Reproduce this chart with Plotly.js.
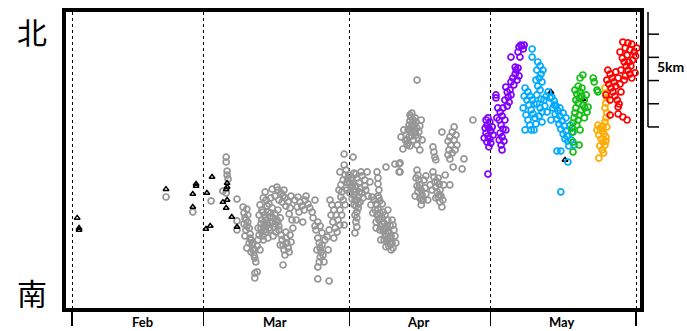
<!DOCTYPE html>
<html>
<head>
<meta charset="utf-8">
<script src="https://cdn.plot.ly/plotly-3.0.1.min.js"></script>
<style>html,body{margin:0;padding:0;background:#fff;}#chart{width:687px;height:331px;}</style>
</head>
<body>
<div id="chart"></div>
<script>
// x = day of year (Feb 1 = 32), y = km north
const monthTickDays = [32, 60, 91, 121, 152];
const monthLabels = ['Feb', 'Mar', 'Apr', 'May'];
const monthLabelDays = [46.9, 75.2, 105.6, 136.3];
const scaleBarKm = [0, 1, 2, 3, 4, 5];
const scaleBarTopKm = 12.89;

const grayPoints = [
[52.0,4.87],[57.7,4.22],[61.6,4.70],[64.8,6.59],[64.8,6.38],[65.0,5.99],[65.0,5.82],[65.2,5.65],[64.1,5.13],[64.8,5.04],[67.1,4.78],[68.4,4.44],[69.2,4.35],[67.1,3.84],[67.1,3.45],
[68.6,4.18],[68.8,3.97],[68.6,3.71],[69.0,3.45],[68.8,3.19],[69.4,3.79],[69.7,3.53],[69.9,3.28],[70.1,3.02],[70.3,2.80],[70.5,2.59],[70.7,2.37],[70.9,2.24],[71.1,2.07],[69.7,2.89],[70.1,2.50],[71.4,2.76],[71.6,3.02],[71.8,3.23],[71.6,3.53],[72.0,2.59],[69.2,2.67],[69.4,4.09],[70.9,1.59],[70.9,1.38],[71.4,1.64],
[69.2,3.62],[69.9,3.10],[70.5,2.89],[70.9,2.59],[69.0,3.88],
[72.0,4.53],[72.4,4.31],[72.9,4.09],[73.3,3.88],[73.7,3.66],[74.1,3.45],[72.4,3.88],[72.9,3.62],[73.3,3.36],[72.2,3.53],[72.6,3.19],[73.7,4.22],[74.1,4.01],[74.6,3.79],[75.0,3.58],[74.6,4.40],[75.2,4.14],[75.6,3.88],[73.3,4.74],[73.9,4.57],[74.3,4.83],[73.1,5.09],[74.6,5.21],[75.6,5.30],[72.7,4.83],[75.4,3.36],[76.0,3.62],[75.8,4.31],[76.3,3.97],[71.8,4.09],[72.7,3.02],[73.7,3.10],[74.8,3.19],
[72.6,4.22],[73.1,3.97],[73.5,3.75],[73.9,3.53],[72.2,3.71],[74.3,4.18],[74.8,3.97],[75.2,3.71],[73.5,4.48],[74.1,3.79],[73.1,3.45],[72.4,3.36],
[75.8,5.17],[76.5,5.04],[76.9,4.91],[77.3,4.83],[78.0,4.65],[76.7,4.65],[77.5,4.48],[78.4,4.40],[76.0,4.74],[77.1,5.17],[75.2,4.91],[78.6,4.91],[78.2,4.14],[78.8,3.88],
[76.0,3.45],[76.5,3.23],[76.7,3.02],[76.9,2.80],[77.1,2.59],[77.3,2.37],[77.5,3.10],[77.7,2.89],[78.0,2.67],[77.5,3.36],[76.3,2.80],[78.4,3.23],[78.2,2.50],[76.9,1.94],[79.0,3.53],[75.8,3.79],[78.6,2.93],
[79.4,4.74],[80.1,4.87],[80.5,4.65],[80.9,4.48],[81.6,4.74],[82.2,4.57],[82.6,4.40],[79.9,4.44],[81.4,4.31],[83.1,4.22],[80.3,4.22],[83.7,4.74],[81.8,4.91],[79.7,3.88],[81.1,3.79],[83.3,3.97],[84.3,3.79],[84.8,3.62],[83.9,3.45],
[84.3,3.10],[84.6,2.89],[84.8,2.67],[85.0,2.50],[84.8,2.28],[84.6,2.07],[85.2,2.80],[85.4,2.37],[84.1,2.59],[85.8,3.02],[86.3,3.15],[87.7,3.10],[85.6,2.07],[84.3,1.85],[85.2,3.32],[83.7,3.62],[86.5,2.59],[84.3,1.34],[86.7,1.25],
[86.9,4.74],[87.3,4.53],[87.7,4.31],[88.2,4.09],[88.6,3.88],[89.0,3.66],[87.1,4.09],[87.5,3.79],[88.0,3.53],[88.6,4.53],[89.0,4.31],[89.4,4.09],[89.7,4.74],[90.1,4.53],[86.7,3.45],[88.4,3.36],[89.9,3.66],[89.2,4.87],[88.8,5.17],
[89.2,5.39],[89.7,5.60],[90.1,5.82],[90.3,6.03],[89.9,6.25],[89.4,5.09],[90.3,5.26],[90.5,5.52],[89.9,6.72],[91.8,6.59],[89.0,5.95],
[90.9,5.82],[91.4,5.60],[91.6,5.34],[91.8,5.17],[92.0,4.96],[92.2,4.74],[92.4,4.48],[92.6,4.22],[91.1,5.04],[91.6,4.78],[92.6,5.69],[93.1,5.47],[93.3,5.26],[93.7,5.04],[92.9,4.87],[93.3,4.65],[92.9,4.40],[92.2,4.09],[92.4,3.79],[92.6,3.58],[92.2,3.32],[90.7,5.69],[90.5,5.17],[93.7,5.78],[94.3,5.60],[94.8,5.95],[94.3,5.34],[93.9,4.83],[95.4,5.52],[94.5,5.17],[95.0,4.91],[96.9,5.95],[97.1,5.69],[97.1,5.43],[97.3,5.17],[97.1,4.91],[97.5,4.70],[92.0,5.90],[93.5,5.95],
[91.1,5.47],[91.8,5.47],[92.4,5.34],[92.2,5.09],[92.6,4.74],[91.4,5.26],[92.4,5.86],[93.1,5.09],[92.9,4.57],[92.0,4.53],[91.6,5.69],[92.6,3.97],
[95.8,4.87],[96.3,4.74],[96.7,4.57],[97.1,4.35],[97.5,4.18],[98.0,3.97],[98.4,3.75],[98.8,3.53],[99.2,3.32],[99.7,3.10],[100.1,2.89],[100.3,2.67],[96.5,4.31],[96.9,4.09],[97.3,3.88],[97.7,3.62],[98.2,3.40],[98.6,3.19],[99.0,2.97],[99.4,2.76],[95.6,4.53],[96.0,4.18],[96.7,3.79],[97.5,3.45],[98.4,3.02],[98.8,2.72],[98.6,4.09],[99.2,3.88],[99.7,3.62],[100.5,3.45],[100.7,3.19],[99.9,2.59],[98.0,4.57],[97.3,4.83],[99.2,4.31],[100.1,3.88],[97.7,3.02],[96.7,3.53],[100.9,2.89],[100.3,3.66],[98.8,6.16],[100.7,6.29],[101.6,6.29],[101.6,5.95],
[97.1,4.14],[97.5,3.92],[98.0,3.71],[98.4,3.49],[98.8,3.28],[99.2,3.06],[99.7,2.84],[96.9,4.53],[98.2,4.22],[99.0,3.62],[99.4,3.40],[99.9,3.19],
[104.3,8.49],[104.1,8.32],[103.9,8.15],[104.6,8.19],[105.0,8.28],[103.7,7.97],[104.3,7.89],[104.8,8.02],[105.2,8.10],[103.5,7.76],[104.1,7.67],[104.8,7.76],[105.4,7.84],[103.1,7.54],[103.7,7.46],[104.3,7.50],[105.2,7.54],[105.8,7.67],[106.0,7.93],[105.6,7.41],[102.9,7.33],[103.5,7.20],[102.4,6.94],[105.4,7.11],[106.0,6.90],[106.5,7.33],[106.3,8.19],[102.6,7.76],[102.0,7.46],[103.3,7.11],[105.4,9.91],[101.8,6.34],[101.8,5.95],
[103.9,8.41],[104.6,7.93],[103.9,7.84],[105.0,7.67],[103.3,7.33],[104.6,7.33],[103.9,7.07],
[105.4,6.03],[105.6,5.82],[105.8,5.60],[106.0,5.39],[106.3,5.17],[106.5,4.96],[106.7,4.74],[105.2,5.69],[105.4,5.34],[105.6,5.09],[106.0,4.83],[106.9,5.60],[107.1,5.26],[107.3,5.00],[107.7,4.74],[105.0,4.91],[106.3,4.53],[107.3,5.78],[108.2,5.39],[105.8,5.26],[106.3,4.74],
[108.8,5.95],[109.0,5.73],[109.2,5.52],[109.4,5.30],[109.7,5.09],[109.9,4.87],[110.3,4.65],[110.7,4.44],[109.9,5.69],[110.1,5.43],[110.3,5.17],[110.5,4.91],[110.9,4.74],[108.6,5.17],[111.1,5.39],[109.4,4.83],[108.8,7.03],[109.0,6.81],[109.2,6.59],[109.4,6.47],[110.7,7.67],[112.4,5.39],[111.4,5.82],[109.7,5.52],[110.1,4.96],
[113.3,7.89],[112.9,7.67],[112.4,7.46],[112.0,7.28],[112.6,7.11],[112.2,6.90],[112.9,6.77],[113.3,7.33],[113.7,7.54],[113.9,7.11],[112.4,6.51],[113.1,6.16],[113.5,6.90],[112.0,6.68],[115.4,6.51],[115.0,6.08],[117.3,8.19]
];

const trianglePoints = [
[33.1,3.97],[33.5,3.53],[33.5,3.45],[52.0,5.21],[58.4,5.34],[58.4,5.43],[57.7,5.00],[57.7,4.44],[61.8,5.73],[60.7,5.04],[60.5,3.49],[61.4,3.62],[64.1,4.65],[65.0,4.74],[65.0,5.47],[65.0,5.30],[64.8,5.21],[64.8,4.40],[66.0,4.01],[67.1,3.58],[133.9,9.40],[136.9,6.47],[140.7,9.09]
];

const purplePoints = [
[120.1,8.19],[120.5,8.28],[120.9,8.10],[120.3,7.97],[120.7,7.84],[121.1,7.71],[120.1,7.63],[120.5,7.50],[120.9,7.37],[121.4,7.89],[119.9,7.84],[120.3,7.24],[121.1,7.20],[120.7,7.03],[120.5,5.86],[121.6,7.54],[119.7,7.41],
[122.6,8.71],[123.1,8.53],[123.5,8.36],[122.9,8.19],[123.3,7.97],[123.7,7.80],[123.1,7.63],[123.5,7.46],[123.9,7.28],[123.3,7.11],[123.5,6.90],[124.1,8.19],[122.4,8.28],[122.2,9.27],[122.2,9.14],[123.7,8.71],[124.3,7.76],[122.9,7.33],
[124.3,9.61],[124.6,9.40],[124.8,9.18],[125.0,8.96],[124.6,8.79],[125.2,9.48],[124.1,9.05],[125.4,9.27],
[125.4,9.83],[125.8,10.00],[126.3,10.17],[126.5,10.34],[126.0,9.70],[126.7,9.91],[127.1,10.09],[126.9,10.43],[126.3,10.47],
[125.4,10.90],[127.3,10.90],[126.9,11.12],[127.5,11.42],[128.0,11.25],[127.7,11.38],[127.1,11.34],[128.2,11.42]
];

const bluePoints = [
[129.9,11.25],[129.9,10.90],[131.1,10.69],[131.6,10.52],[130.9,10.34],[131.8,10.17],[131.4,10.00],[132.0,9.83],[131.1,9.65],[131.6,9.48],[130.9,9.27],[131.8,9.09],[132.2,10.34],[130.7,9.91],
[128.4,9.57],[129.0,9.40],[129.4,9.22],[129.9,9.05],[130.3,8.88],[128.8,9.05],[129.2,8.84],[129.7,8.62],[130.1,8.45],[130.5,8.28],[128.6,8.41],[129.0,8.19],[129.4,7.97],[128.4,7.76],[129.7,7.76],[130.3,7.76],[130.9,8.88],[131.6,8.71],[132.0,8.53],[132.4,9.05],[132.9,9.22],[133.3,9.40],[132.6,8.79],[133.1,8.53],[133.7,9.14],[131.4,8.36],[132.0,8.10],[130.7,8.02],[128.2,9.22],[128.0,8.71],
[135.2,6.85],[134.6,8.84],[134.1,9.18],[134.6,9.01],[135.0,8.79],[135.4,8.58],[135.8,8.36],[136.3,8.15],[136.7,7.93],[137.1,7.71],[137.3,7.50],[137.5,7.28],[137.7,7.07],[134.8,8.45],[135.2,8.23],[135.6,8.02],[136.0,7.80],[136.5,7.59],[136.9,7.37],[134.3,8.71],[135.8,8.71],[136.5,8.49],[137.1,8.28],[138.0,7.97],[138.4,7.67],[138.2,7.33],[136.0,6.85],[137.5,6.38],[136.0,5.09],[133.9,8.19],[138.8,7.11]
];

const greenPoints = [
[139.0,9.48],[139.4,9.31],[139.9,9.14],[139.7,8.92],[139.2,8.71],[139.0,8.49],[138.8,8.28],[138.6,8.06],[138.4,7.84],[138.6,7.67],[140.1,9.40],[140.5,9.22],[141.0,9.05],[140.7,8.84],[140.3,8.62],[139.9,8.40],[139.7,8.19],[139.4,7.97],[141.4,9.27],[141.1,8.71],[140.5,9.57],[139.7,9.65],[139.2,9.05],[140.1,7.76],[141.0,8.28],[141.6,8.53],[141.8,8.75],
[140.7,10.13],[140.1,10.00],[142.9,10.00],[143.1,9.83],[143.7,9.48],[143.9,9.40],[138.6,7.24],[139.9,7.11],[138.6,6.81]
];

const orangePoints = [
[145.4,9.57],[145.6,9.35],[145.8,9.14],[145.6,8.92],[145.4,8.71],[145.8,8.49],[145.6,8.28],[145.4,8.10],[143.9,7.97],[144.3,7.84],[144.8,7.71],[145.2,7.59],[145.6,7.46],[144.1,7.54],[144.6,7.37],[145.0,7.24],[145.4,7.11],[144.3,7.07],[144.8,6.90],[145.8,7.89],[143.7,7.76],[145.0,7.93],[145.6,7.28],[144.1,6.55],[145.1,6.77]
];

const redPoints = [
[146.0,10.34],[146.5,10.17],[146.9,10.00],[147.3,9.83],[147.7,9.65],[146.7,9.57],[147.1,9.40],[147.5,9.22],[148.0,9.05],[148.4,8.88],[145.8,9.91],[146.2,9.74],[148.2,10.00],[148.6,9.74],[148.8,9.40],[145.6,9.27],[146.5,9.05],[148.2,8.75],[146.5,8.40],[148.2,8.45],[149.2,8.32],[150.1,8.19],[147.7,10.26],
[149.2,11.55],[150.3,11.51],[151.1,11.46],[149.7,11.29],[150.7,11.21],[151.6,11.12],[150.1,10.99],[149.1,10.86],[149.5,10.69],[149.9,10.52],[150.3,10.34],[150.7,10.17],[151.1,10.00],[148.8,10.34],[149.7,10.09],[151.3,10.78],[151.9,10.95],[151.8,10.22],[150.5,10.69],[150.9,10.52],[152.2,11.29],[148.6,11.12],[149.5,9.91]
];

function circ(points, color) {
  return {
    x: points.map(p => p[0]), y: points.map(p => p[1]),
    type: 'scatter', mode: 'markers', hoverinfo: 'skip', showlegend: false,
    marker: {symbol: 'circle-open', size: 6, color: color, line: {width: 1.7, color: color}}
  };
}

const traces = [
  circ(grayPoints, 'rgb(150,150,150)'),
  {
    x: trianglePoints.map(p => p[0]), y: trianglePoints.map(p => p[1]),
    type: 'scatter', mode: 'markers', hoverinfo: 'skip', showlegend: false,
    marker: {symbol: 'triangle-up-open', size: 5, color: '#000', line: {width: 1.5, color: '#000'}}
  },
  circ(purplePoints, 'rgb(128,0,255)'),
  circ(bluePoints, 'rgb(0,170,255)'),
  circ(greenPoints, 'rgb(20,190,20)'),
  circ(orangePoints, 'rgb(255,170,0)'),
  circ(redPoints, 'rgb(255,0,0)')
];

const plotL = 66, plotR = 640;
const pw = plotR - plotL;
const shapes = [];
const barX = (648 - plotL) / pw;
const tickX = (659 - plotL) / pw;
shapes.push({type: 'line', xref: 'paper', yref: 'y', x0: barX, x1: barX,
  y0: scaleBarTopKm - scaleBarKm[scaleBarKm.length - 1], y1: scaleBarTopKm, line: {color: '#000', width: 1.5}});
scaleBarKm.forEach(k => {
  shapes.push({type: 'line', xref: 'paper', yref: 'y', x0: barX, x1: tickX,
    y0: scaleBarTopKm - k, y1: scaleBarTopKm - k, line: {color: '#000', width: 1.5}});
});

const annotations = monthLabels.map((m, i) => ({
  text: '<b>' + m + '</b>', x: monthLabelDays[i], xref: 'x', y: -0.047, yref: 'paper',
  showarrow: false, xanchor: 'center', yanchor: 'middle',
  font: {family: 'Lato, DejaVu Sans, sans-serif', size: 13, color: '#000'}
}));
annotations.push({text: '北', x: -0.059, xref: 'paper', y: 0.935, yref: 'paper', showarrow: false,
  xanchor: 'center', yanchor: 'middle', font: {family: 'Noto Sans CJK SC', size: 30, color: '#000'}});
annotations.push({text: '南', x: -0.059, xref: 'paper', y: 0.055, yref: 'paper', showarrow: false,
  xanchor: 'center', yanchor: 'middle', font: {family: 'Noto Sans CJK SC', size: 30, color: '#000'}});
annotations.push({text: '<b>5km</b>', x: (670 - plotL) / pw, xref: 'paper', y: 10.5, yref: 'y', showarrow: false,
  xanchor: 'center', yanchor: 'middle', font: {family: 'Lato, DejaVu Sans, sans-serif', size: 14, color: '#000'}});

const layout = {
  width: 687, height: 331,
  margin: {l: plotL, r: 687 - plotR, t: 12, b: 23, pad: 0},
  paper_bgcolor: '#fff', plot_bgcolor: '#fff',
  xaxis: {
    range: [30.72, 152.85], tickmode: 'array', tickvals: monthTickDays, ticktext: monthTickDays.map(() => ''),
    ticks: 'outside', ticklen: 14, tickwidth: 1.5, tickcolor: '#000', showticklabels: false,
    showgrid: true, gridcolor: '#000', gridwidth: 1, griddash: 'dot',
    showline: true, linewidth: 4, linecolor: '#000', mirror: true, zeroline: false
  },
  yaxis: {
    range: [0.086, 12.845], showticklabels: false, ticks: '', showgrid: false,
    showline: true, linewidth: 4, linecolor: '#000', mirror: true, zeroline: false
  },
  shapes: shapes,
  annotations: annotations
};

Plotly.newPlot('chart', traces, layout, {staticPlot: true, displayModeBar: false});
</script>
</body>
</html>
